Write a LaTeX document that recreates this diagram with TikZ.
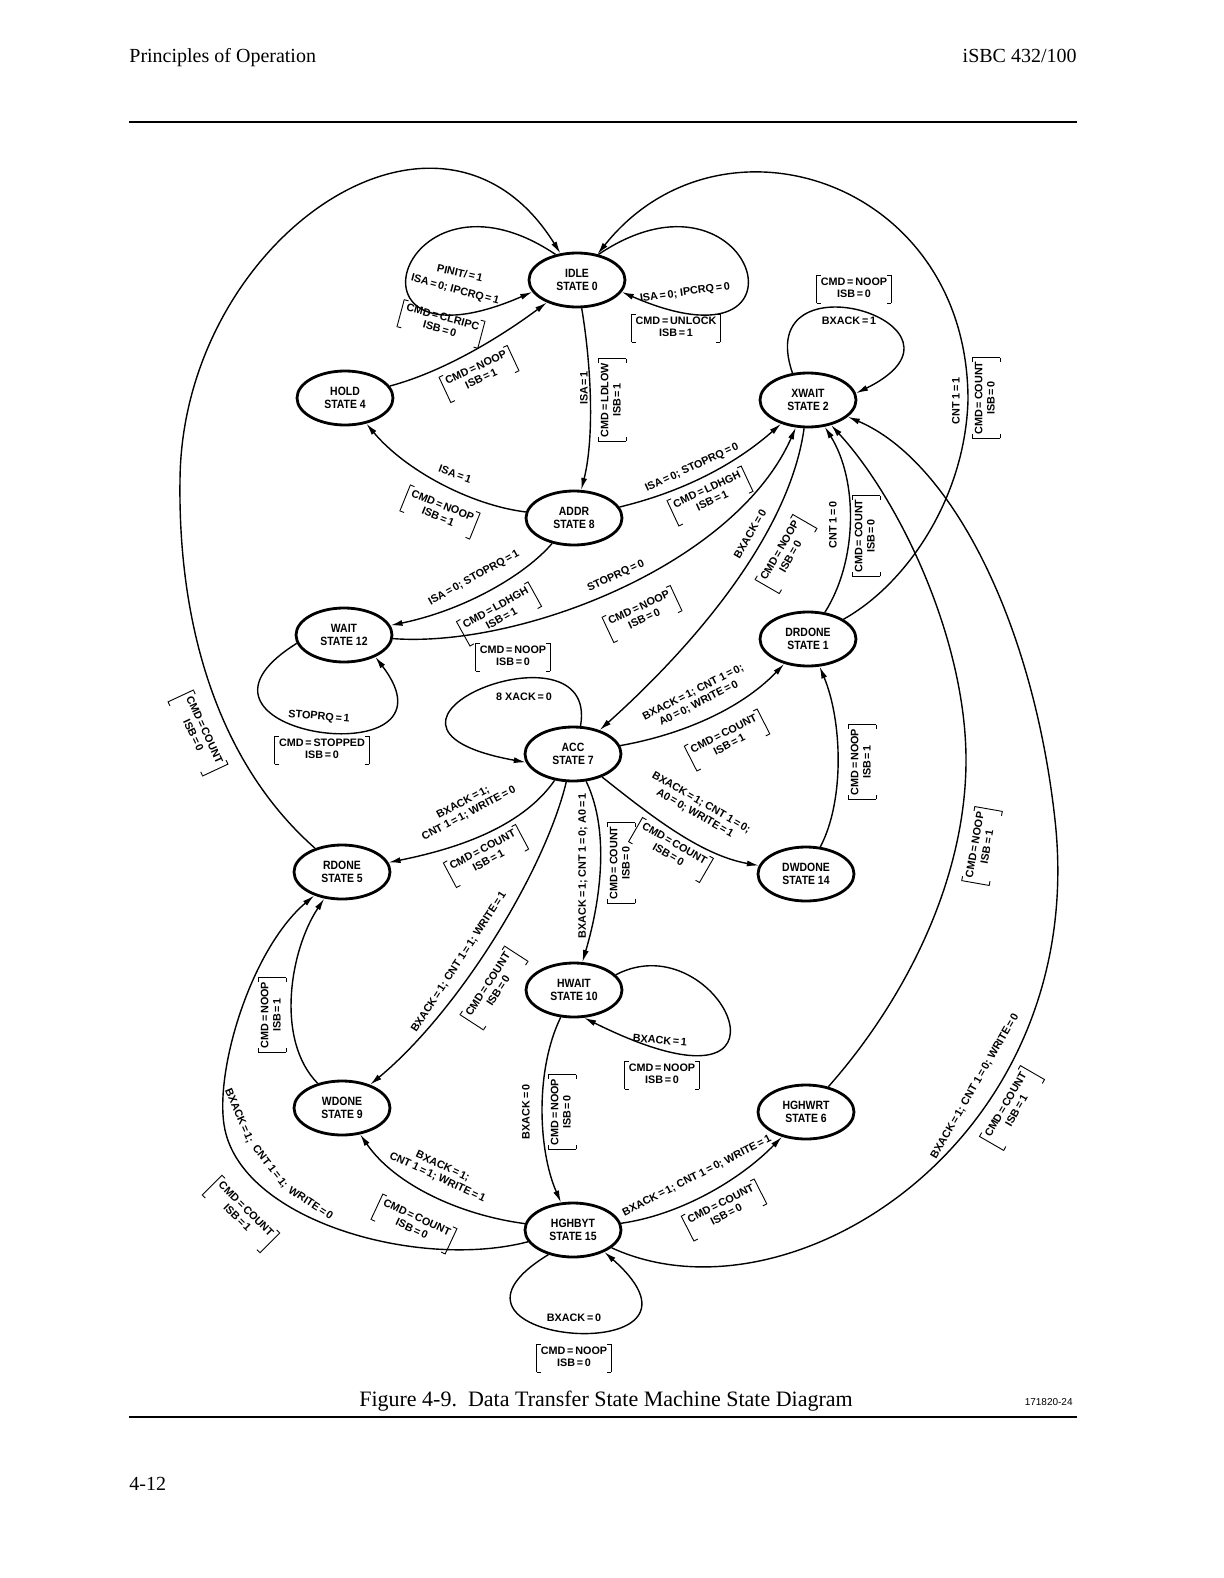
\documentclass[tikz,border=0pt]{standalone}
\usepackage{fontspec}
\setmainfont{Liberation Serif}
\newfontfamily\dg{Liberation Sans}
\newfontfamily\dgs[FakeStretch=0.87]{Liberation Sans}
\usetikzlibrary{shapes.geometric,arrows.meta}
\newcommand\e{\,=\,}
\newcommand\tck{\vrule height0.45pt depth0pt width2pt}
\newcommand\bk[2]{\setbox0=\hbox{\begin{tabular}{@{}c@{}}#1\\#2\end{tabular}}%
  \dimen0=\dimexpr\ht0+1pt\relax \dimen2=\dimexpr\dp0+1pt\relax
  \hbox{\vrule height\dimen0 depth\dimen2 width0.45pt
    \rlap{\raise\dimexpr\dimen0-0.45pt\relax\hbox{\tck}}%
    \rlap{\lower\dimen2\hbox{\tck}}%
    \kern2pt\box0\kern2pt
    \llap{\raise\dimexpr\dimen0-0.45pt\relax\hbox{\tck}}%
    \llap{\lower\dimen2\hbox{\tck}}%
    \vrule height\dimen0 depth\dimen2 width0.45pt}}
\tikzset{
  st/.style={ellipse, draw, line width=1.4pt, minimum width=48pt, minimum height=27pt,
    inner sep=0pt, align=center, font=\dgs\bfseries\fontsize{6}{6.8}\selectfont},
  tr/.style={line width=0.7pt, -{Latex[length=6pt,width=3pt]}},
  lb/.style={inner sep=0pt, align=center, font=\dg\bfseries\fontsize{5.4}{6.2}\selectfont},
  hd/.style={inner sep=0pt, font=\fontsize{10}{12}\selectfont},
}
\begin{document}
\begin{tikzpicture}[x=0.5pt,y=-0.5pt]
\useasboundingbox (0,0) rectangle (1224,1578);
% header / footer
\node[hd, anchor=base west] (hl) at (129,63) {Principles of Operation};
\node[hd, anchor=base east] (hr) at (1077,63) {iSBC 432/100};
\coordinate (ra) at (129,122); \coordinate (rb) at (1077,122);
\draw[line width=1pt] (ra) -- (rb);
\node[inner sep=0pt, anchor=base, font=\fontsize{11}{13}\selectfont] (cap) at (606,1406) {Figure 4-9.\ \ Data Transfer State Machine State Diagram};
\node[inner sep=0pt, anchor=base east, font=\dg\fontsize{5}{6}\selectfont] (num) at (1073,1405) {171820-24};
\coordinate (rc) at (129,1417); \coordinate (rd) at (1077,1417);
\draw[line width=1pt] (rc) -- (rd);
\node[hd, anchor=base west] (pg) at (129,1490) {4-12};

% states
\node[st] (s0) at (577,280) {IDLE\\STATE 0};
\node[st] (s4) at (345,398) {HOLD\\STATE 4};
\node[st] (s2) at (808,400) {XWAIT\\STATE 2};
\node[st] (s8) at (574,518) {ADDR\\STATE 8};
\node[st] (s12) at (344,635) {WAIT\\STATE 12};
\node[st] (s1) at (808,639) {DRDONE\\STATE 1};
\node[st] (s7) at (573,754) {ACC\\STATE 7};
\node[st] (s5) at (342,872) {RDONE\\STATE 5};
\node[st] (s14) at (806,874) {DWDONE\\STATE 14};
\node[st] (s10) at (574,990) {HWAIT\\STATE 10};
\node[st] (s9) at (342,1108) {WDONE\\STATE 9};
\node[st] (s6) at (806,1112) {HGHWRT\\STATE 6};
\node[st] (s15) at (573,1230) {HGHBYT\\STATE 15};

\coordinate (r1) at (968,400);
\coordinate (r2) at (966,760);
\coordinate (r3) at (1055,820);
\coordinate (l1) at (180,480);
\coordinate (l2) at (225,1130);

% transitions
\draw[tr] (s0.130) .. controls (400,150) and (330,380) .. (s0.195);
\draw[tr] (s0.50) .. controls (754,150) and (824,380) .. (s0.-15);
\draw[tr] (s4) .. controls (450,370) and (510,330) .. (s0);
\draw[tr] (s0) .. controls (592,370) and (594,440) .. (s8);
\draw[tr] (s8) .. controls (470,505) and (405,470) .. (s4);
\draw[tr] (s8) .. controls (690,490) and (740,460) .. (s2);
\draw[tr] (s8) .. controls (525,575) and (465,610) .. (s12);
\draw[tr] (s12) .. controls (520,648) and (735,565) .. (s2);
\draw[tr] (s12.190) .. controls (150,735) and (470,780) .. (s12.-35);
\draw[tr] (s2.120) .. controls (750,250) and (995,325) .. (s2.8);
\draw[tr] (s2) .. controls (790,530) and (700,640) .. (s7);
\draw[tr] (s1) .. controls (858,560) and (858,480) .. (s2);
\draw[tr] (s1) .. controls (905,585) and (965,500) .. (r1) .. controls (968,180) and (720,100) .. (s0);
\draw[tr] (s7.75) .. controls (600,615) and (320,725) .. (s7.190);
\draw[tr] (s7) .. controls (680,735) and (740,710) .. (s1);
\draw[tr] (s7) .. controls (650,815) and (700,855) .. (s14);
\draw[tr] (s14) .. controls (845,800) and (842,720) .. (s1);
\draw[tr] (s7) .. controls (520,830) and (450,850) .. (s5);
\draw[tr] (s7) .. controls (612,835) and (598,910) .. (s10);
\draw[tr] (s7) .. controls (545,870) and (460,1010) .. (s9);
\draw[tr] (s5) .. controls (215,760) and (178,620) .. (l1) .. controls (182,240) and (440,60) .. (s0);
\draw[tr] (s9) .. controls (275,1040) and (290,950) .. (s5);
\draw[tr] (s15) .. controls (420,1270) and (245,1222) .. (l2) .. controls (213,1075) and (250,950) .. (s5);
\draw[tr] (s15) .. controls (460,1215) and (395,1185) .. (s9);
\draw[tr] (s10.20) .. controls (720,920) and (820,1135) .. (s10.-70);
\draw[tr] (s10) .. controls (535,1070) and (538,1150) .. (s15);
\draw[tr] (s15) .. controls (680,1215) and (740,1180) .. (s6);
\draw[tr] (s6) .. controls (905,1000) and (966,880) .. (r2) .. controls (966,640) and (900,500) .. (s2);
\draw[tr] (s15) .. controls (790,1330) and (1090,1140) .. (r3) .. controls (1033,620) and (950,460) .. (s2);
\draw[tr] (s15.225) .. controls (400,1345) and (740,1372) .. (s15.-35);

% labels
\node[lb, rotate=-13] (t1a) at (460,273) {PINIT/\e 1};
\node[lb, rotate=-15] (t1b) at (455,290) {ISA\e 0; IPCRQ\e 1};
\node[lb, rotate=-15] (t1c) at (441,324) {\bk{CMD\e CLRIPC}{ISB\e 0}};
\node[lb, rotate=8] (t2a) at (685,293) {ISA\e 0; IPCRQ\e 0};
\node[lb] (t2b) at (676,328) {\bk{CMD\e UNLOCK}{ISB\e 1}};
\node[lb, rotate=25] (t3) at (479,374) {\bk{CMD\e NOOP}{ISB\e 1}};
\node[lb, rotate=90] (t4a) at (584,388) {ISA\e 1};
\node[lb, rotate=90] (t4b) at (612,400) {\bk{CMD\e LDLOW}{ISB\e 1}};
\node[lb, rotate=-20] (t5a) at (455,474) {ISA\e 1};
\node[lb, rotate=-22] (t5b) at (440,512) {\bk{CMD\e NOOP}{ISB\e 1}};
\node[lb, rotate=25] (t6a) at (692,468) {ISA\e 0; STOPRQ\e 0};
\node[lb, rotate=25] (t6b) at (710,496) {\bk{CMD\e LDHGH}{ISB\e 1}};
\node[lb, rotate=29] (t7a) at (474,578) {ISA\e 0; STOPRQ\e 1};
\node[lb, rotate=29] (t7b) at (499,614) {\bk{CMD\e LDHGH}{ISB\e 1}};
\node[lb, rotate=25] (t8a) at (616,576) {STOPRQ\e 0};
\node[lb, rotate=25] (t8b) at (642,614) {\bk{CMD\e NOOP}{ISB\e 0}};
\node[lb, rotate=-5] (t9a) at (319,717) {STOPRQ\e 1};
\node[lb] (t9b) at (322,750) {\bk{CMD\e STOPPED}{ISB\e 0}};
\node[lb] (t10a) at (849,321) {BXACK\e 1};
\node[lb] (t10b) at (854,289) {\bk{CMD\e NOOP}{ISB\e 0}};
\node[lb, rotate=60] (t11a) at (750,534) {BXACK\e 0};
\node[lb, rotate=60] (t11b) at (786,554) {\bk{CMD\e NOOP}{ISB\e 0}};
\node[lb, rotate=90] (t12a) at (833,525) {CNT 1\e 0};
\node[lb, rotate=90] (t12b) at (866,536) {\bk{CMD\e COUNT}{ISB\e 0}};
\node[lb, rotate=90] (t13a) at (956,401) {CNT 1\e 1};
\node[lb, rotate=90] (t13b) at (986,398) {\bk{CMD\e COUNT}{ISB\e 0}};
\node[lb] (t14a) at (524,697) {8 XACK\e 0};
\node[lb] (t14b) at (513,657) {\bk{CMD\e NOOP}{ISB\e 0}};
\node[lb, rotate=27] (t15a) at (696,698) {BXACK\e 1; CNT 1\e 0;\\A0\e 0; WRITE\e 0};
\node[lb, rotate=27] (t15b) at (727,740) {\bk{CMD\e COUNT}{ISB\e 1}};
\node[lb, rotate=-30] (t16a) at (698,808) {BXACK\e 1; CNT 1\e 0;\\A0\e 0; WRITE\e 1};
\node[lb, rotate=-30] (t16b) at (671,850) {\bk{CMD\e COUNT}{ISB\e 0}};
\node[lb, rotate=90] (t17) at (862,762) {\bk{CMD\e NOOP}{ISB\e 1}};
\node[lb, rotate=28] (t18a) at (466,808) {BXACK\e 1;\\CNT 1\e 1; WRITE\e 0};
\node[lb, rotate=28] (t18b) at (486,856) {\bk{CMD\e COUNT}{ISB\e 1}};
\node[lb, rotate=90] (t19a) at (583,866) {BXACK\e 1; CNT 1\e 0; A0\e 1};
\node[lb, rotate=90] (t19b) at (621,863) {\bk{CMD\e COUNT}{ISB\e 0}};
\node[lb, rotate=57] (t20a) at (459,962) {BXACK\e 1; CNT 1\e 1; WRITE\e 1};
\node[lb, rotate=57] (t20b) at (494,988) {\bk{CMD\e COUNT}{ISB\e 0}};
\node[lb, rotate=-65] (t21) at (198,733) {\bk{CMD\e COUNT}{ISB\e 0}};
\node[lb, rotate=90] (t22) at (272,1015) {\bk{CMD\e NOOP}{ISB\e 1}};
\node[lb, rotate=-67] (t23a) at (239,1116) {BXACK\e 1;};
\node[lb, rotate=-52] (t23b) at (270,1167) {CNT 1\e 1;};
\node[lb, rotate=-33] (t23c) at (311,1203) {WRITE\e 0};
\node[lb, rotate=-45] (t23d) at (241,1214) {\bk{CMD\e COUNT}{ISB\e 1}};
\node[lb, rotate=-25] (t24a) at (440,1172) {BXACK\e 1;\\CNT 1\e 1; WRITE\e 1};
\node[lb, rotate=-25] (t24b) at (414,1224) {\bk{CMD\e COUNT}{ISB\e 0}};
\node[lb, rotate=-5] (t25a) at (660,1040) {BXACK\e 1};
\node[lb] (t25b) at (662,1075) {\bk{CMD\e NOOP}{ISB\e 0}};
\node[lb, rotate=90] (t26a) at (526,1112) {BXACK\e 0};
\node[lb, rotate=90] (t26b) at (562,1112) {\bk{CMD\e NOOP}{ISB\e 0}};
\node[lb, rotate=27] (t27a) at (697,1176) {BXACK\e 1; CNT 1\e 0; WRITE\e 1};
\node[lb, rotate=27] (t27b) at (724,1210) {\bk{CMD\e COUNT}{ISB\e 0}};
\node[lb, rotate=80] (t28) at (982,846) {\bk{CMD\e NOOP}{ISB\e 1}};
\node[lb, rotate=60] (t29a) at (975,1086) {BXACK\e 1; CNT 1\e 0; WRITE\e 0};
\node[lb, rotate=60] (t29b) at (1012,1108) {\bk{CMD\e COUNT}{ISB\e 1}};
\node[lb] (t30a) at (574,1318) {BXACK\e 0};
\node[lb] (t30b) at (574,1358) {\bk{CMD\e NOOP}{ISB\e 0}};
\end{tikzpicture}
\end{document}
